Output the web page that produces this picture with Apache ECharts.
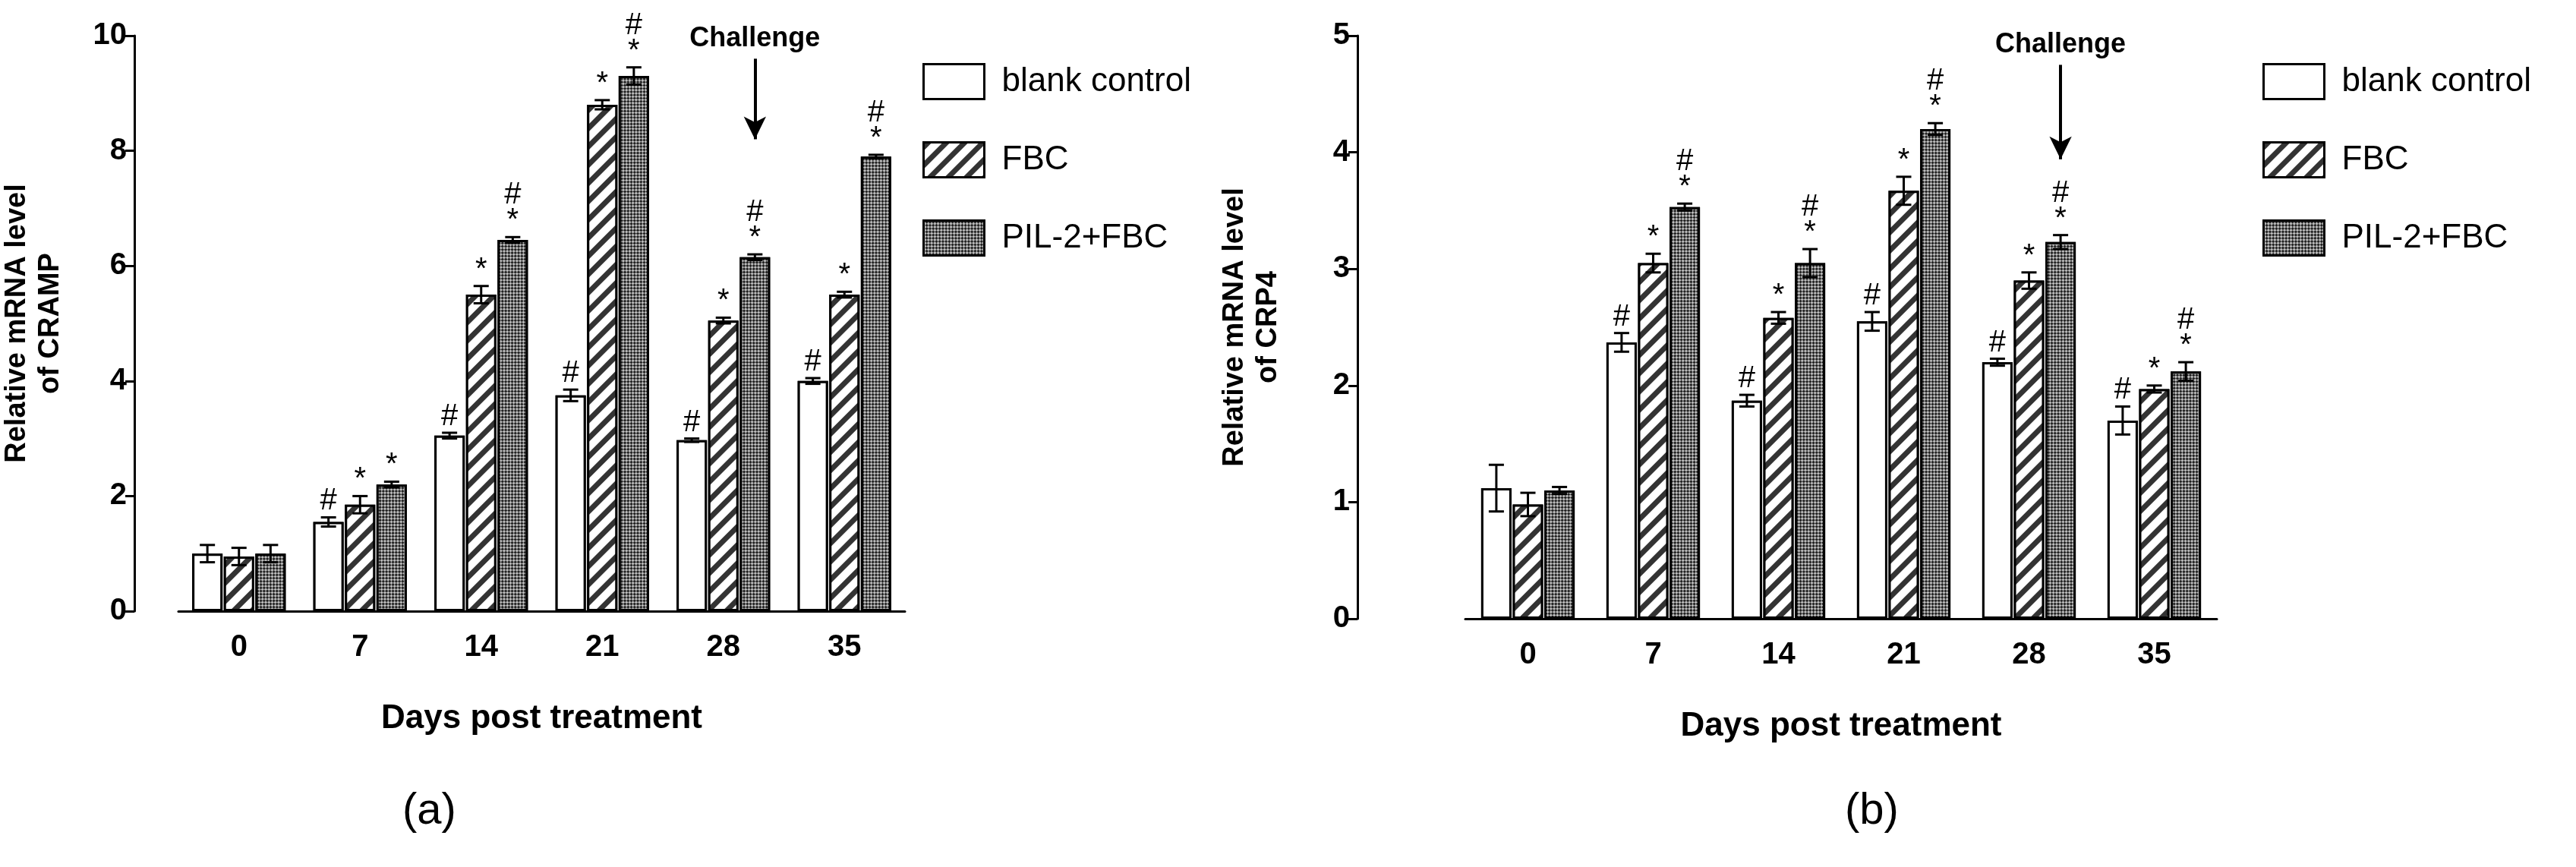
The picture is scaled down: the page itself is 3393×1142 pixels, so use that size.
<!DOCTYPE html>
<html><head><meta charset="utf-8">
<script src="https://cdn.jsdelivr.net/npm/echarts@6/dist/echarts.min.js"></script>
<style>html,body{margin:0;padding:0;background:#fff}#c{width:3393px;height:1142px}</style>
</head><body><div id="c"></div>
<script>
const categories = ['0','7','14','21','28','35'];
const seriesNames = ['blank control','FBC','PIL-2+FBC'];
// Chart (a) CRAMP
const aBlank = [1.0,1.55,3.05,3.75,2.97,4.0];
const aFBC   = [0.95,1.85,5.5,8.8,5.05,5.5];
const aPIL   = [1.0,2.2,6.45,9.3,6.15,7.9];
const aBlankErr = [0.15,0.08,0.05,0.1,0.03,0.05];
const aFBCErr   = [0.15,0.15,0.15,0.08,0.05,0.05];
const aPILErr   = [0.15,0.05,0.05,0.15,0.05,0.03];
const aBlankMark = ['','#','#','#','#','#'];
const aFBCMark   = ['','*','*','*','*','*'];
const aPILMark   = ['','*','#*','#*','#*','#*'];
// Chart (b) CRP4
const bBlank = [1.12,2.37,1.87,2.55,2.2,1.7];
const bFBC   = [0.98,3.05,2.58,3.67,2.9,1.97];
const bPIL   = [1.1,3.53,3.05,4.2,3.23,2.12];
const bBlankErr = [0.2,0.08,0.05,0.08,0.03,0.12];
const bFBCErr   = [0.1,0.08,0.05,0.12,0.07,0.03];
const bPILErr   = [0.03,0.03,0.12,0.05,0.06,0.08];
const bBlankMark = ['','#','#','#','#','#'];
const bFBCMark   = ['','*','*','*','*','*'];
const bPILMark   = ['','#*','#*','#*','#*','#*'];
const yTicksA = [0,2,4,6,8,10];
const yTicksB = [0,1,2,3,4,5];

const font = 'Liberation Sans';
const decals = [
  {symbol:'rect',color:'rgba(0,0,0,0)',backgroundColor:'#fff',dashArrayX:[1,0],dashArrayY:[1,0]},
  {symbol:'rect',color:'#000',backgroundColor:'#fff',dashArrayX:[1,0],dashArrayY:[9,8],rotation:-Math.PI/4},
  {symbol:'rect',color:'#222',backgroundColor:'#bbb',dashArrayX:[[3,3],[0,3,3,0]],dashArrayY:[3,0],symbolSize:1}
];
const chart = echarts.init(document.getElementById('c'));
const series = [];
function addChart(idx, vals, errs, marks, chal){
  vals.forEach((v,k)=>{
    const s = {type:'bar',name:seriesNames[k],xAxisIndex:idx,yAxisIndex:idx,data:v,
      barWidth:40,barGap:'4%',
      itemStyle:{color:'#fff',borderColor:'#000',borderWidth:3,decal:decals[k]}};
    if(k===2 && chal){
      s.markLine={silent:true,symbol:['none','arrow'],symbolSize:[22,30],
        lineStyle:{color:'#000',width:4,type:'solid'},label:{show:false},
        data:[[{coord:['28',chal[0]]},{coord:['28',chal[1]]}]]};
      s.markPoint={symbol:'circle',symbolSize:1,itemStyle:{color:'rgba(0,0,0,0)'},data:[{coord:['28',chal[0]],
        label:{show:true,position:'top',distance:8,formatter:'Challenge',fontFamily:font,fontWeight:'bold',fontSize:36,color:'#000'}}]};
    }
    series.push(s);
  });
  series.push({type:'custom',xAxisIndex:idx,yAxisIndex:idx,silent:true,z:10,
    data:categories.map((c,i)=>i),
    renderItem:(params,api)=>{
      const i = api.value(0);
      const ch=[];
      const bw = 40, gap=1.6, step=bw+gap;
      const center = api.coord([i,0])[0];
      for(let k=0;k<3;k++){
        const x = center + (k-1)*step;
        const top = api.coord([i,vals[k][i]+errs[k][i]])[1];
        const bot = api.coord([i,vals[k][i]-errs[k][i]])[1];
        const st={stroke:'#000',lineWidth:3};
        ch.push({type:'line',shape:{x1:x,y1:top,x2:x,y2:bot},style:st});
        ch.push({type:'line',shape:{x1:x-10,y1:top,x2:x+10,y2:top},style:st});
        ch.push({type:'line',shape:{x1:x-10,y1:bot,x2:x+10,y2:bot},style:st});
        const m = marks[k][i];
        if(m){
          ch.push({type:'text',style:{x:x,y:top-4,text:m.split('').join('\n'),
            fill:'#000',fontSize:40,fontFamily:font,align:'center',verticalAlign:'bottom',lineHeight:34}});
        }
      }
      return {type:'group',children:ch};
    }});
}
addChart(0,[aBlank,aFBC,aPIL],[aBlankErr,aFBCErr,aPILErr],[aBlankMark,aFBCMark,aPILMark],[9.6,8.2]);
addChart(1,[bBlank,bFBC,bPIL],[bBlankErr,bFBCErr,bPILErr],[bBlankMark,bFBCMark,bPILMark],[4.75,3.94]);

const axisLine={show:true,lineStyle:{color:'#000',width:3}};
function xAx(gi){return {type:'category',gridIndex:gi,data:categories,axisLine,axisTick:{show:false},
  axisLabel:{fontFamily:font,fontWeight:'bold',fontSize:40,color:'#000',margin:28},
  name:'Days post treatment',nameLocation:'middle',nameGap:120,
  nameTextStyle:{fontFamily:font,fontWeight:'bold',fontSize:44,color:'#000'}};}
function yAx(gi,ticks,name,off){return {type:'value',gridIndex:gi,min:ticks[0],max:ticks[ticks.length-1],
  interval:ticks[1]-ticks[0],offset:off,axisLine,axisTick:{show:true,length:12,lineStyle:{width:3,color:'#000'}},
  splitLine:{show:false},axisLabel:{fontFamily:font,fontWeight:'bold',fontSize:40,color:'#000',margin:10},
  name:name,nameLocation:'middle',nameGap:off>100?95:88,
  nameTextStyle:{fontFamily:font,fontWeight:'bold',fontSize:38,color:'#000',lineHeight:44}};}
function leg(left,top){return {left,top,orient:'vertical',itemWidth:80,itemHeight:46,itemGap:54,icon:'rect',
  data:seriesNames,textStyle:{fontFamily:font,fontSize:44,color:'#000',padding:[0,0,0,18]},
  itemStyle:{borderColor:'#000',borderWidth:3}};}
chart.setOption({
  animation:false,
  aria:{enabled:true,decal:{show:true}},
  grid:[{left:208,right:2201,top:47,bottom:337},{left:1930,right:473,top:47,bottom:327}],
  xAxis:[xAx(0),xAx(1)],
  yAxis:[yAx(0,yTicksA,'Relative mRNA level\nof CRAMP',58),yAx(1,yTicksB,'Relative mRNA level\nof CRP4',142)],
  legend:[leg(1210,78),leg(2975,78)],
  title:[{text:'(a)',left:525,top:1035,textStyle:{fontFamily:font,fontWeight:'normal',fontSize:58,color:'#000'}},
         {text:'(b)',left:2425,top:1035,textStyle:{fontFamily:font,fontWeight:'normal',fontSize:58,color:'#000'}}],
  series
});
</script></body></html>
